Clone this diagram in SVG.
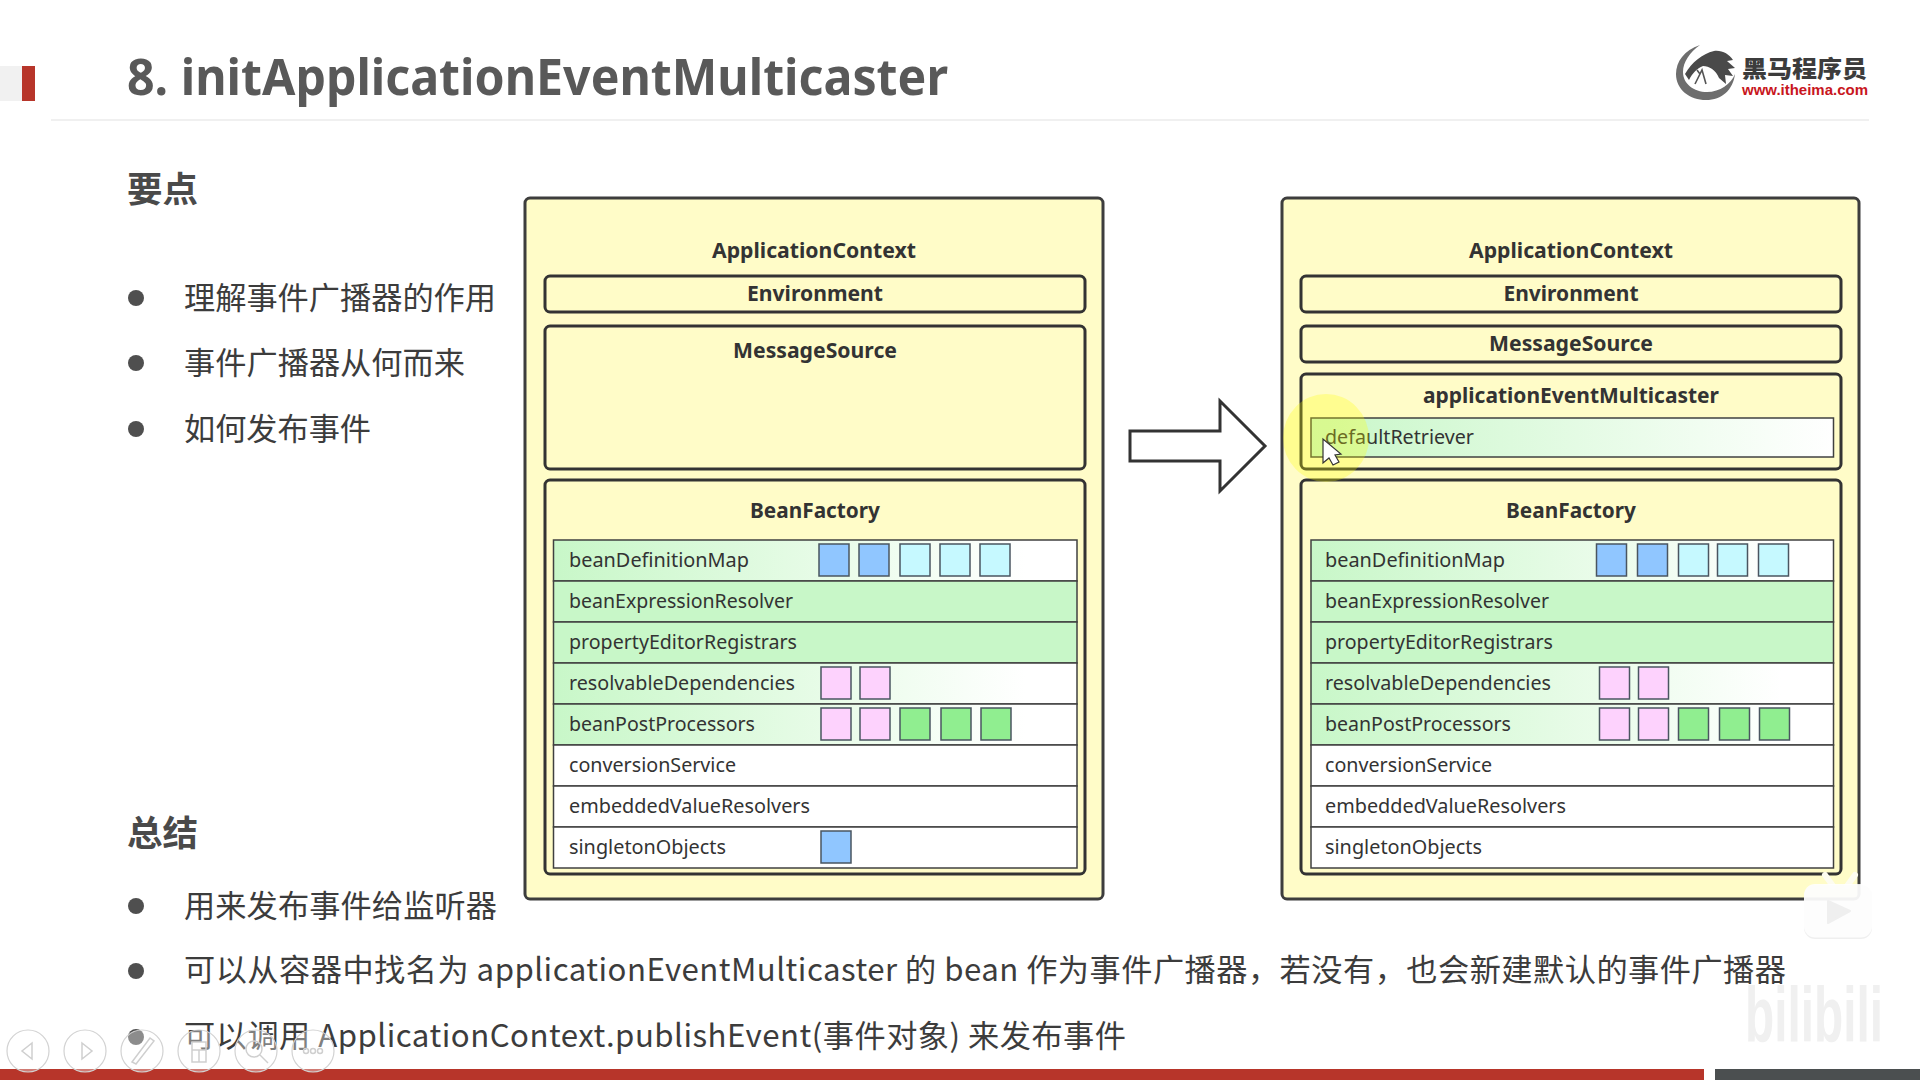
<svg xmlns="http://www.w3.org/2000/svg" width="1920" height="1080" viewBox="0 0 1920 1080">
<style>
text{font-family:"Noto Sans","Noto Sans CJK SC",sans-serif}
.cjk{font-family:"Noto Sans CJK SC","Noto Sans",sans-serif}
.title{font-size:50px;font-weight:700;fill:#595959}
.h{font-size:35.5px;font-weight:700;fill:#4a4a4a}
.b{font-size:31.2px;fill:#3c3c3c}
.dot{fill:#4f4f4f}
.outer{fill:#fffcc8;stroke:#3d3d3d;stroke-width:3}
.inner{fill:#fffcc8;stroke:#333;stroke-width:3}
.lb{font-size:22px;font-weight:700;fill:#333;text-anchor:middle}
.rt{font-size:20.5px;fill:#333}
.row{stroke:#404040;stroke-width:1.5}
.s{stroke:#4a5560;stroke-width:1.5}
.blue{fill:#90c6ff}.cyan{fill:#c6f9ff}.pink{fill:#fdd2fd}.green{fill:#90ee90}
.tool{fill:#fff;fill-opacity:.35;stroke:#d2d2d2;stroke-width:1.2}
.toolg{fill:none;stroke:#cfcfcf;stroke-width:1.5}
</style>
<defs>
<linearGradient id="g1"><stop offset="0" stop-color="#c8f7c8"/><stop offset=".9" stop-color="#fff"/></linearGradient>
<linearGradient id="g3"><stop offset="0" stop-color="#c8f7c8"/><stop offset="1" stop-color="#fff"/></linearGradient>
</defs>
<rect width="1920" height="1080" fill="#fff"/>
<g id="chrome">
<rect x="0" y="66" width="22" height="35" fill="#f1f1f1"/>
<rect x="22" y="66" width="13" height="35" fill="#b7352a"/>
<rect x="51" y="119" width="1818" height="2" fill="#f0f0f0"/>
<text class="title" x="127" y="95" textLength="821" lengthAdjust="spacingAndGlyphs">8. initApplicationEventMulticaster</text>
</g>
<g id="logo">
<path d="M1700 45 C1684 50 1676 62 1676 74 C1676 90 1690 100 1706 100 C1722 100 1733 90 1735 74 C1731 84 1720 92 1707 92 C1694 92 1683 84 1683 72 C1683 62 1690 52 1700 45Z" fill="#6e6e6e"/>
<path d="M1685 74 C1692 62 1702 54 1714 51 C1722 50 1729 54 1733 60 L1727 61 L1735 68 L1728 69 L1733 76 L1725 75 L1726 84 L1719 78 C1716 70 1709 66 1703 66 C1697 68 1692 74 1689 80Z" fill="#4a4a4a"/>
<path d="M1695 84 L1702 70 L1706 84 M1700 74 L1697 70" fill="none" stroke="#555" stroke-width="1.6"/>
<text class="cjk" x="1742" y="77" font-size="23" font-weight="900" fill="#3c3c3c" textLength="125" lengthAdjust="spacingAndGlyphs">黑马程序员</text>
<text x="1742" y="95" font-size="14" font-weight="700" fill="#c8161d" textLength="126" lengthAdjust="spacingAndGlyphs" style="font-family:'Liberation Sans',sans-serif">www.itheima.com</text>
</g>
<g id="points">
<text class="h cjk" x="127" y="202" textLength="71" lengthAdjust="spacingAndGlyphs">要点</text>
<circle class="dot" cx="136" cy="298" r="8"/><circle class="dot" cx="136" cy="363" r="8"/><circle class="dot" cx="136" cy="429" r="8"/>
<text class="b cjk" x="184" y="309" textLength="312">理解事件广播器的作用</text>
<text class="b cjk" x="184" y="374" textLength="281">事件广播器从何而来</text>
<text class="b cjk" x="184" y="440" textLength="187">如何发布事件</text>
<text class="h cjk" x="127" y="846" textLength="71" lengthAdjust="spacingAndGlyphs">总结</text>
<circle class="dot" cx="136" cy="906" r="8"/><circle class="dot" cx="136" cy="971" r="8"/><circle class="dot" cx="136" cy="1037" r="8"/>
<text class="b cjk" x="184" y="917" textLength="313">用来发布事件给监听器</text>
<text class="b cjk" x="184" y="981" textLength="1602">可以从容器中找名为 applicationEventMulticaster 的 bean 作为事件广播器，若没有，也会新建默认的事件广播器</text>
<text class="b cjk" x="184" y="1047" textLength="942">可以调用 ApplicationContext.publishEvent(事件对象) 来发布事件</text>
</g>
<g id="left-context">
<rect class="outer" x="525" y="198" width="578" height="701" rx="5"/>
<text class="lb" x="814" y="258" textLength="204" lengthAdjust="spacingAndGlyphs">ApplicationContext</text>
<rect class="inner" x="545" y="276" width="540" height="36" rx="5"/>
<text class="lb" x="815" y="301" textLength="136" lengthAdjust="spacingAndGlyphs">Environment</text>
<rect class="inner" x="545" y="326" width="540" height="143" rx="5"/>
<text class="lb" x="815" y="358" textLength="164" lengthAdjust="spacingAndGlyphs">MessageSource</text>
<rect class="inner" x="545" y="480" width="540" height="394" rx="5"/>
<text class="lb" x="815" y="518" textLength="130" lengthAdjust="spacingAndGlyphs">BeanFactory</text>
<g id="left-table">
<rect class="row" x="553.5" y="540" width="523.5" height="41" fill="url(#g1)"/>
<rect class="row" x="553.5" y="581" width="523.5" height="41" fill="#c8f7c8"/>
<rect class="row" x="553.5" y="622" width="523.5" height="41" fill="#c8f7c8"/>
<rect class="row" x="553.5" y="663" width="523.5" height="41" fill="url(#g1)"/>
<rect class="row" x="553.5" y="704" width="523.5" height="41" fill="url(#g1)"/>
<rect class="row" x="553.5" y="745" width="523.5" height="41" fill="#fff"/>
<rect class="row" x="553.5" y="786" width="523.5" height="41" fill="#fff"/>
<rect class="row" x="553.5" y="827" width="523.5" height="41" fill="#fff"/>
<text class="rt" x="569" y="567" textLength="180" lengthAdjust="spacingAndGlyphs">beanDefinitionMap</text>
<text class="rt" x="569" y="608" textLength="224" lengthAdjust="spacingAndGlyphs">beanExpressionResolver</text>
<text class="rt" x="569" y="649" textLength="228" lengthAdjust="spacingAndGlyphs">propertyEditorRegistrars</text>
<text class="rt" x="569" y="690" textLength="226" lengthAdjust="spacingAndGlyphs">resolvableDependencies</text>
<text class="rt" x="569" y="731" textLength="186" lengthAdjust="spacingAndGlyphs">beanPostProcessors</text>
<text class="rt" x="569" y="772" textLength="167" lengthAdjust="spacingAndGlyphs">conversionService</text>
<text class="rt" x="569" y="813" textLength="241" lengthAdjust="spacingAndGlyphs">embeddedValueResolvers</text>
<text class="rt" x="569" y="854" textLength="157" lengthAdjust="spacingAndGlyphs">singletonObjects</text>
<rect class="s blue" x="819" y="544" width="30" height="32"/><rect class="s blue" x="859" y="544" width="30" height="32"/>
<rect class="s cyan" x="900" y="544" width="30" height="32"/><rect class="s cyan" x="940" y="544" width="30" height="32"/><rect class="s cyan" x="980" y="544" width="30" height="32"/>
<rect class="s pink" x="821" y="667" width="30" height="32"/><rect class="s pink" x="860" y="667" width="30" height="32"/>
<rect class="s pink" x="821" y="708" width="30" height="32"/><rect class="s pink" x="860" y="708" width="30" height="32"/>
<rect class="s green" x="900" y="708" width="30" height="32"/><rect class="s green" x="941" y="708" width="30" height="32"/><rect class="s green" x="981" y="708" width="30" height="32"/>
<rect class="s blue" x="821" y="831" width="30" height="32"/>
</g>
</g>
<g id="connectors">
<path d="M1130 431 H1220 V401 L1265 446 L1220 491 V461 H1130Z" fill="#fff" stroke="#333" stroke-width="3"/>
</g>
<g id="right-context">
<rect class="outer" x="1282" y="198" width="577" height="701" rx="5"/>
<text class="lb" x="1571" y="258" textLength="204" lengthAdjust="spacingAndGlyphs">ApplicationContext</text>
<rect class="inner" x="1301" y="276" width="540" height="36" rx="5"/>
<text class="lb" x="1571" y="301" textLength="135" lengthAdjust="spacingAndGlyphs">Environment</text>
<rect class="inner" x="1301" y="326" width="540" height="36" rx="5"/>
<text class="lb" x="1571" y="351" textLength="164" lengthAdjust="spacingAndGlyphs">MessageSource</text>
<rect class="inner" x="1301" y="374" width="540" height="95" rx="5"/>
<text class="lb" x="1571" y="403" textLength="296" lengthAdjust="spacingAndGlyphs">applicationEventMulticaster</text>
<rect class="row" x="1311" y="418" width="522.5" height="39" fill="url(#g3)" stroke="#666"/>
<text class="rt" x="1325" y="444" textLength="149" lengthAdjust="spacingAndGlyphs">defaultRetriever</text>
<rect class="inner" x="1301" y="480" width="540" height="394" rx="5"/>
<text class="lb" x="1571" y="518" textLength="130" lengthAdjust="spacingAndGlyphs">BeanFactory</text>
<g id="right-table">
<rect class="row" x="1311" y="540" width="522.5" height="41" fill="url(#g1)"/>
<rect class="row" x="1311" y="581" width="522.5" height="41" fill="#c8f7c8"/>
<rect class="row" x="1311" y="622" width="522.5" height="41" fill="#c8f7c8"/>
<rect class="row" x="1311" y="663" width="522.5" height="41" fill="url(#g1)"/>
<rect class="row" x="1311" y="704" width="522.5" height="41" fill="url(#g1)"/>
<rect class="row" x="1311" y="745" width="522.5" height="41" fill="#fff"/>
<rect class="row" x="1311" y="786" width="522.5" height="41" fill="#fff"/>
<rect class="row" x="1311" y="827" width="522.5" height="41" fill="#fff"/>
<text class="rt" x="1325" y="567" textLength="180" lengthAdjust="spacingAndGlyphs">beanDefinitionMap</text>
<text class="rt" x="1325" y="608" textLength="224" lengthAdjust="spacingAndGlyphs">beanExpressionResolver</text>
<text class="rt" x="1325" y="649" textLength="228" lengthAdjust="spacingAndGlyphs">propertyEditorRegistrars</text>
<text class="rt" x="1325" y="690" textLength="226" lengthAdjust="spacingAndGlyphs">resolvableDependencies</text>
<text class="rt" x="1325" y="731" textLength="186" lengthAdjust="spacingAndGlyphs">beanPostProcessors</text>
<text class="rt" x="1325" y="772" textLength="167" lengthAdjust="spacingAndGlyphs">conversionService</text>
<text class="rt" x="1325" y="813" textLength="241" lengthAdjust="spacingAndGlyphs">embeddedValueResolvers</text>
<text class="rt" x="1325" y="854" textLength="157" lengthAdjust="spacingAndGlyphs">singletonObjects</text>
<rect class="s blue" x="1596.5" y="544" width="30" height="32"/><rect class="s blue" x="1637.5" y="544" width="30" height="32"/>
<rect class="s cyan" x="1678.5" y="544" width="30" height="32"/><rect class="s cyan" x="1717.5" y="544" width="30" height="32"/><rect class="s cyan" x="1758.5" y="544" width="30" height="32"/>
<rect class="s pink" x="1599.5" y="667" width="30" height="32"/><rect class="s pink" x="1638.5" y="667" width="30" height="32"/>
<rect class="s pink" x="1599.5" y="708" width="30" height="32"/><rect class="s pink" x="1638.5" y="708" width="30" height="32"/>
<rect class="s green" x="1678.5" y="708" width="30" height="32"/><rect class="s green" x="1719.5" y="708" width="30" height="32"/><rect class="s green" x="1759.5" y="708" width="30" height="32"/>
</g>
</g>
<g id="pointer">
<ellipse cx="1326" cy="438" rx="43" ry="44" fill="#ffff00" fill-opacity=".28"/>
<path d="M1323 439 V463 L1329 458 L1333 465 L1339 462 L1335 455 L1341 454Z" fill="#fff" stroke="#333" stroke-width="1.2"/>
</g>
<g id="footer">
<rect x="0" y="1069" width="1704" height="11" fill="#b7352a"/>
<rect x="1715" y="1069" width="205" height="11" fill="#4b4f50"/>
<circle class="tool" cx="28" cy="1051" r="21"/><path class="toolg" d="M32 1043 L22 1051 L32 1059Z"/>
<circle class="tool" cx="85" cy="1051" r="21"/><path class="toolg" d="M82 1043 L92 1051 L82 1059Z"/>
<circle class="tool" cx="142" cy="1051" r="21"/><path class="toolg" d="M132 1062 L150 1038 L154 1041 L136 1064Z"/>
<circle class="tool" cx="199" cy="1051" r="21"/><path class="toolg" d="M192 1042 H206 V1062 H192Z M192 1050 H206 M199 1050 V1062"/>
<circle class="tool" cx="256" cy="1051" r="21"/><circle class="toolg" cx="254" cy="1049" r="8"/><path class="toolg" d="M260 1055 L268 1063"/>
<circle class="tool" cx="313" cy="1051" r="21"/><circle class="toolg" cx="306" cy="1051" r="2.5"/><circle class="toolg" cx="313" cy="1051" r="2.5"/><circle class="toolg" cx="320" cy="1051" r="2.5"/>
</g>
<g id="watermark">
<text transform="translate(1745 1042) scale(1 1.4)" x="0" y="0" font-size="56" font-weight="700" fill="#f0f0f0" textLength="138" lengthAdjust="spacingAndGlyphs" style="font-family:'Liberation Sans',sans-serif">bilibili</text>
<path d="M1825 875 L1833 886 M1855 875 L1847 886" stroke="#fdfcf0" stroke-width="6" stroke-linecap="round"/>
<rect x="1804" y="885" width="68" height="54" rx="11" fill="#e4e4e4" fill-opacity=".6"/>
<rect x="1804" y="884" width="68" height="53.5" rx="11" fill="#fff" fill-opacity=".86"/>
<path d="M1828 901 L1850 911 L1828 923Z" fill="#efefef" stroke="#efefef" stroke-width="2" stroke-linejoin="round"/>
</g>
</svg>
